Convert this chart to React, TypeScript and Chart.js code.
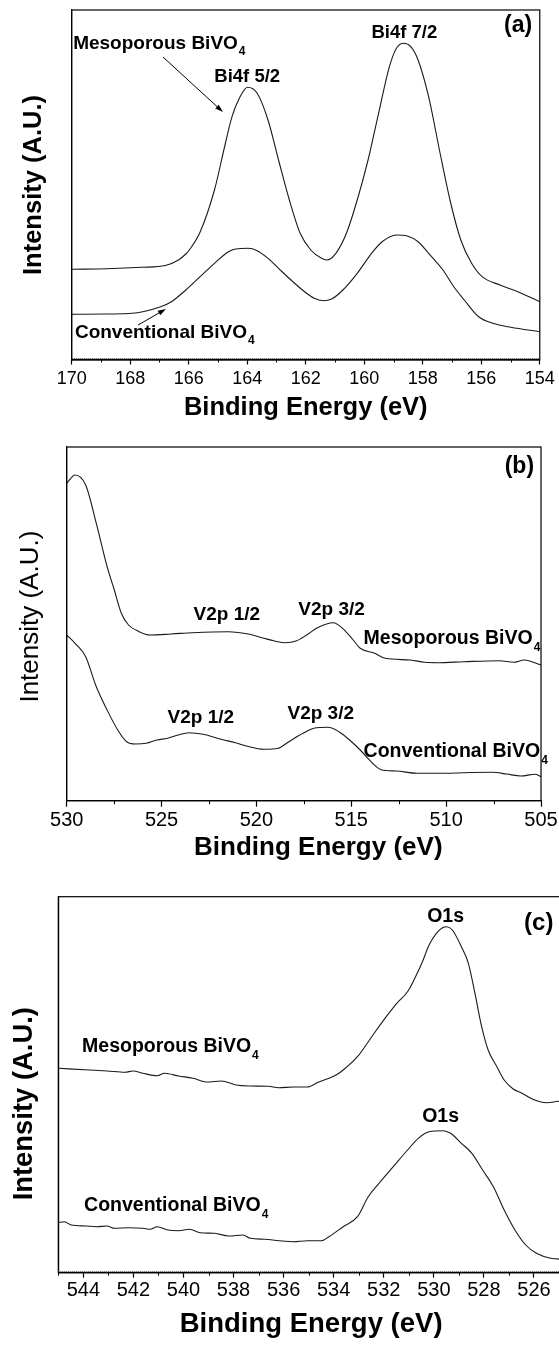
import React, { useEffect, useRef } from "react";
import { Chart, registerables } from "chart.js";

Chart.register(...registerables);

const FONT = '"Liberation Sans", Arial, Helvetica, sans-serif';

// ---------- Panel (a): Bi 4f ----------
const aEnergyMeso = [170.0, 168.8, 167.6, 166.8, 166.35, 166.1, 165.98, 165.61, 165.12, 164.76, 164.52, 164.27, 163.99, 163.66, 163.29, 162.93, 162.56, 162.19, 161.83, 161.46, 161.28, 160.97, 160.61, 160.24, 159.87, 159.51, 159.14, 158.9, 158.65, 158.41, 158.16, 157.8, 157.43, 157.07, 156.7, 156.33, 155.97, 155.36, 154.75, 154.0];
const aMeso = [90.7, 91.3, 92.7, 94.5, 100, 106, 110, 128, 170, 215, 243.3, 261.7, 272.7, 266.7, 240, 200, 160, 126.7, 110, 101.7, 100, 106.7, 126.7, 160, 200, 246.7, 293.3, 311.7, 316.7, 313.3, 300, 263.3, 210, 160, 120, 96.7, 83.3, 75, 68.3, 58.3];
const aEnergyConv = [170.0, 168.79, 167.93, 167.57, 166.96, 166.59, 166.1, 165.61, 165.12, 164.64, 164.39, 163.97, 163.66, 163.29, 162.93, 162.44, 162.07, 161.71, 161.4, 161.1, 160.73, 160.24, 159.75, 159.39, 158.9, 158.53, 158.16, 157.8, 157.31, 156.94, 156.58, 156.09, 155.6, 154.99, 154.0];
const aConv = [45.7, 46, 46.7, 48.3, 53.3, 58.3, 70, 83.3, 96.7, 108.3, 111, 111.7, 109.3, 101.7, 91.7, 78.3, 69, 61.7, 59.3, 61.3, 70, 86.7, 106.7, 118.3, 125, 124, 118.3, 106.7, 90, 73.3, 60, 43.3, 36.7, 32.7, 28.3];
const aTicks = [170, 168, 166, 164, 162, 160, 158, 156, 154];
const aMinor = [169, 167, 165, 163, 161, 159, 157, 155];

// ---------- Panel (b): V 2p ----------
const bEnergyMeso = [530.0, 529.56, 529.0, 528.44, 527.87, 527.49, 527.12, 526.74, 526.18, 525.62, 524.49, 523.36, 521.48, 520.35, 519.6, 519.04, 518.47, 517.91, 517.35, 516.78, 515.94, 515.46, 514.9, 514.53, 513.77, 513.21, 511.89, 511.14, 510.39, 509.07, 507.19, 506.44, 505.88, 505.0];
const bMeso = [317.4, 325.7, 315.7, 277.4, 234, 210.7, 187.4, 175.7, 169, 165.7, 166.7, 168, 169, 166.4, 162.4, 159.7, 158, 159.7, 165.7, 173, 178, 172.4, 160.7, 152.4, 147.4, 142.4, 140.7, 138.4, 138, 139, 140, 138.4, 140.7, 135.7];
const bEnergyConv = [530.0, 529.56, 529.0, 528.44, 527.87, 527.31, 526.84, 526.37, 525.81, 525.24, 524.68, 524.12, 523.55, 522.8, 521.86, 521.11, 520.54, 519.6, 518.85, 518.29, 517.54, 516.97, 516.22, 515.65, 515.09, 514.53, 513.96, 513.4, 512.65, 511.52, 510.02, 509.07, 507.57, 506.82, 506.06, 505.31, 505.0];
const bConv = [165.7, 157.4, 144, 114, 90.7, 70.7, 59, 56.7, 57.4, 60.7, 62.4, 65.7, 68, 66.4, 61.4, 58, 54.7, 51.4, 52.4, 59, 67.4, 72.4, 73.4, 69, 60.7, 50.7, 39, 30.7, 29.7, 27.4, 27.4, 28, 28.4, 26.7, 24.7, 26.4, 24];
const bTicks = [530, 525, 520, 515, 510, 505];
const bMinor = [527.5, 522.5, 517.5, 512.5, 507.5];

// ---------- Panel (c): O 1s ----------
const cEnergyMeso = [545.0, 543.76, 543.05, 542.33, 542.02, 541.62, 541.05, 540.76, 540.19, 539.62, 539.05, 538.48, 537.9, 537.33, 536.62, 536.19, 535.62, 535.05, 534.62, 533.9, 533.62, 533.05, 532.48, 531.9, 531.48, 531.05, 530.76, 530.48, 530.19, 529.9, 529.62, 529.48, 529.26, 528.9, 528.62, 528.33, 528.12, 527.83, 527.48, 527.19, 526.83, 526.48, 526.05, 525.76, 525.48, 525.26, 525.05, 524.8];
const cMeso = [204.4, 202.7, 201.7, 200.4, 201.7, 199.4, 197, 199.4, 196.7, 194.4, 190.7, 191.7, 187.7, 186.7, 186.4, 185, 185.7, 185.7, 190.4, 197.7, 202.7, 216, 236, 256, 269.4, 281, 294.4, 309.4, 327.7, 339.4, 345.4, 346, 342.7, 326, 309.4, 276, 249.4, 222.7, 206, 192.7, 183.7, 179.4, 173.4, 171, 170, 170.4, 171.4, 170];
const cEnergyConv = [545.0, 544.76, 544.48, 543.9, 543.48, 543.05, 542.76, 542.19, 541.62, 541.33, 541.05, 540.62, 540.19, 539.76, 539.33, 538.76, 538.19, 537.62, 537.33, 536.76, 536.05, 535.62, 535.05, 534.48, 534.19, 533.62, 533.05, 532.62, 532.19, 531.62, 531.05, 530.62, 530.19, 529.62, 529.33, 528.9, 528.48, 528.05, 527.62, 527.19, 526.76, 526.33, 525.9, 525.33, 524.8];
const cConv = [50, 51, 47.7, 46.7, 46, 46.7, 44.4, 45, 44.4, 43.4, 46, 42.7, 42, 43.4, 40, 39.4, 36.7, 37.7, 34.4, 33.4, 31.7, 31, 32, 32, 36, 46, 56, 76, 89.4, 106, 122.7, 134.4, 141, 142, 139.4, 129.4, 119.4, 102.7, 86, 62.7, 42.7, 27.7, 19.4, 14.4, 13.4];
const cTicks = [544, 542, 540, 538, 536, 534, 532, 530, 528, 526];
const cMinor = [545, 543, 541, 539, 537, 535, 533, 531, 529, 527, 525];

type Note = { text: string; sub?: string; x: number; y: number; align?: "left" | "center"; size: number; bold?: boolean };
type Arrow = { x1: number; y1: number; x2: number; y2: number };

type PanelCfg = {
  top: number;
  width: number;
  height: number;
  padTop: number;
  padRight: number;
  yAxisW: number;
  xAxisH: number;
  xMin: number;
  xMax: number;
  yMax: number;
  ticks: number[];
  minor: number[];
  tickSize: number;
  tickPad: number;
  tickLen: number;
  minorLen: number;
  dottedAxis: boolean;
  xTitle: string;
  xTitleSize: number;
  xTitlePad: number;
  yTitle: string;
  yTitleSize: number;
  yTitleBold: boolean;
  yTitlePad: number;
  series: { e: number[]; v: number[] }[];
  notes: Note[];
  arrows: Arrow[];
};

const panels: PanelCfg[] = [
  {
    top: 0, width: 559, height: 440, padTop: 10, padRight: 19, yAxisW: 71.7, xAxisH: 80,
    xMin: 154, xMax: 170, yMax: 350, ticks: aTicks, minor: aMinor,
    tickSize: 18, tickPad: 4.2, tickLen: 4.5, minorLen: 2.5, dottedAxis: true,
    xTitle: "Binding Energy (eV)", xTitleSize: 25.5, xTitlePad: 17.2,
    yTitle: "Intensity (A.U.)", yTitleSize: 25.5, yTitleBold: true, yTitlePad: 18.7,
    series: [{ e: aEnergyMeso, v: aMeso }, { e: aEnergyConv, v: aConv }],
    notes: [
      { text: "Mesoporous BiVO", sub: "4", x: 169.95, y: 316, size: 19, bold: true },
      { text: "Bi4f 5/2", x: 164.0, y: 283, align: "center", size: 18.5, bold: true },
      { text: "Bi4f 7/2", x: 158.63, y: 327, align: "center", size: 18.5, bold: true },
      { text: "(a)", x: 154.74, y: 334, align: "center", size: 23, bold: true },
      { text: "Conventional BiVO", sub: "4", x: 169.89, y: 27, size: 19, bold: true },
    ],
    arrows: [
      { x1: 166.88, y1: 303, x2: 164.83, y2: 248 },
      { x1: 167.73, y1: 35, x2: 166.78, y2: 51 },
    ],
  },
  {
    top: 440, width: 559, height: 440, padTop: 7, padRight: 17.3, yAxisW: 66.7, xAxisH: 79.3,
    xMin: 505, xMax: 530, yMax: 353.7, ticks: bTicks, minor: bMinor,
    tickSize: 20, tickPad: 1.3, tickLen: 6, minorLen: 3.5, dottedAxis: false,
    xTitle: "    Binding Energy (eV)", xTitleSize: 26, xTitlePad: 16.4,
    yTitle: "  Intensity (A.U.)", yTitleSize: 26, yTitleBold: false, yTitlePad: 15.4,
    series: [{ e: bEnergyMeso, v: bMeso }, { e: bEnergyConv, v: bConv }],
    notes: [
      { text: "V2p 1/2", x: 521.56, y: 185.7, align: "center", size: 19, bold: true },
      { text: "V2p 3/2", x: 516.04, y: 190.7, align: "center", size: 19, bold: true },
      { text: "Mesoporous BiVO", sub: "4", x: 514.35, y: 161.7, size: 19.5, bold: true },
      { text: "V2p 1/2", x: 522.93, y: 82.7, align: "center", size: 19, bold: true },
      { text: "V2p 3/2", x: 516.61, y: 86.7, align: "center", size: 19, bold: true },
      { text: "Conventional BiVO", sub: "4", x: 514.35, y: 48.7, size: 19.5, bold: true },
      { text: "(b)", x: 506.14, y: 333.7, align: "center", size: 23, bold: true },
    ],
    arrows: [],
  },
  {
    top: 880, width: 600, height: 467, padTop: 16.7, padRight: 36, yAxisW: 58.3, xAxisH: 74.3,
    xMin: 524.8, xMax: 545, yMax: 376, ticks: cTicks, minor: cMinor,
    tickSize: 20, tickPad: 1.1, tickLen: 5, minorLen: 3, dottedAxis: true,
    xTitle: "Binding Energy (eV)", xTitleSize: 27.5, xTitlePad: 6.5,
    yTitle: "Intensity (A.U.)     ", yTitleSize: 27.4, yTitleBold: true, yTitlePad: 7.6,
    series: [{ e: cEnergyMeso, v: cMeso }, { e: cEnergyConv, v: cConv }],
    notes: [
      { text: "O1s", x: 529.53, y: 355.7, align: "center", size: 19.5, bold: true },
      { text: "(c)", x: 525.81, y: 349.7, align: "center", size: 24, bold: true },
      { text: "Mesoporous BiVO", sub: "4", x: 544.05, y: 225.7, size: 19.5, bold: true },
      { text: "O1s", x: 529.73, y: 155.7, align: "center", size: 19.5, bold: true },
      { text: "Conventional BiVO", sub: "4", x: 543.97, y: 66.7, size: 19.5, bold: true },
    ],
    arrows: [],
  },
];

const fontStr = (size: number, bold?: boolean) => `${bold ? "bold " : ""}${size}px ${FONT}`;

function makeDecor(cfg: PanelCfg) {
  return {
    id: "decor",
    afterDraw(chart: any) {
      const ctx = chart.ctx as CanvasRenderingContext2D;
      const xs = chart.scales.x;
      const ys = chart.scales.y;
      const ca = chart.chartArea;
      ctx.save();
      ctx.strokeStyle = "#000";
      ctx.fillStyle = "#000";
      ctx.lineWidth = 1.2;
      ctx.strokeRect(ca.left, ca.top, ca.right - ca.left, ca.bottom - ca.top);
      if (cfg.dottedAxis) {
        ctx.save();
        ctx.lineWidth = 1;
        ctx.strokeStyle = "#444";
        ctx.setLineDash([1, 1]);
        ctx.beginPath();
        ctx.moveTo(ca.left, Math.round(ca.bottom) - 1.5);
        ctx.lineTo(ca.right, Math.round(ca.bottom) - 1.5);
        ctx.stroke();
        ctx.restore();
      }
      ctx.lineWidth = 1;
      cfg.minor.forEach((v) => {
        const px = Math.round(xs.getPixelForValue(v)) + 0.5;
        ctx.beginPath();
        ctx.moveTo(px, ca.bottom);
        ctx.lineTo(px, ca.bottom + cfg.minorLen);
        ctx.stroke();
      });
      cfg.notes.forEach((n) => {
        ctx.font = fontStr(n.size, n.bold);
        const w = ctx.measureText(n.text).width;
        const subSize = Math.round(n.size * 0.62);
        let ws = 0;
        if (n.sub) {
          ctx.font = fontStr(subSize, n.bold);
          ws = ctx.measureText(n.sub).width + 1;
        }
        let x0 = xs.getPixelForValue(n.x);
        const y0 = ys.getPixelForValue(n.y);
        if (n.align === "center") x0 -= (w + ws) / 2;
        ctx.textAlign = "left";
        ctx.textBaseline = "middle";
        ctx.font = fontStr(n.size, n.bold);
        ctx.fillText(n.text, x0, y0);
        if (n.sub) {
          ctx.font = fontStr(subSize, n.bold);
          ctx.fillText(n.sub, x0 + w + 1, y0 + n.size * 0.42);
        }
      });
      cfg.arrows.forEach((a) => {
        const x1 = xs.getPixelForValue(a.x1);
        const y1 = ys.getPixelForValue(a.y1);
        const x2 = xs.getPixelForValue(a.x2);
        const y2 = ys.getPixelForValue(a.y2);
        const ang = Math.atan2(y2 - y1, x2 - x1);
        const L = 8;
        const H = 2.6;
        ctx.lineWidth = 1;
        ctx.beginPath();
        ctx.moveTo(x1, y1);
        ctx.lineTo(x2 - Math.cos(ang) * L * 0.8, y2 - Math.sin(ang) * L * 0.8);
        ctx.stroke();
        ctx.beginPath();
        ctx.moveTo(x2, y2);
        ctx.lineTo(x2 - Math.cos(ang) * L - Math.sin(ang) * H, y2 - Math.sin(ang) * L + Math.cos(ang) * H);
        ctx.lineTo(x2 - Math.cos(ang) * L + Math.sin(ang) * H, y2 - Math.sin(ang) * L - Math.cos(ang) * H);
        ctx.closePath();
        ctx.fill();
      });
      ctx.restore();
    },
  };
}

function Panel({ cfg }: { cfg: PanelCfg }) {
  const ref = useRef<HTMLCanvasElement | null>(null);
  useEffect(() => {
    if (!ref.current) return;
    const chart = new Chart(ref.current, {
      type: "line",
      data: {
        datasets: cfg.series.map((s) => ({
          data: s.e.map((e, i) => ({ x: e, y: s.v[i] })),
          borderColor: "#1a1a1a",
          borderWidth: 1.1,
          pointRadius: 0,
          fill: false,
          cubicInterpolationMode: "monotone" as const,
        })),
      },
      options: {
        responsive: false,
        animation: false,
        devicePixelRatio: 1,
        layout: { padding: { top: cfg.padTop, right: cfg.padRight, bottom: 0, left: 0 } },
        plugins: { legend: { display: false }, tooltip: { enabled: false } },
        scales: {
          x: {
            type: "linear",
            reverse: true,
            min: cfg.xMin,
            max: cfg.xMax,
            afterBuildTicks: (s: any) => {
              s.ticks = cfg.ticks.map((v) => ({ value: v }));
            },
            afterFit: (s: any) => {
              s.height = cfg.xAxisH;
            },
            ticks: {
              autoSkip: false,
              maxRotation: 0,
              minRotation: 0,
              padding: cfg.tickPad,
              color: "#000",
              font: { family: FONT, size: cfg.tickSize, lineHeight: 1.2 },
              callback: (v: any) => String(v),
            },
            grid: { drawOnChartArea: false, drawTicks: true, tickLength: cfg.tickLen, tickWidth: 1.2, tickColor: "#000" },
            border: { display: true, color: "#000", width: 1.2 },
            title: {
              display: true,
              text: cfg.xTitle,
              color: "#000",
              font: { family: FONT, size: cfg.xTitleSize, weight: "bold", lineHeight: 1.2 },
              padding: { top: 0, bottom: cfg.xTitlePad },
            },
          },
          y: {
            type: "linear",
            min: 0,
            max: cfg.yMax,
            afterFit: (s: any) => {
              s.width = cfg.yAxisW;
            },
            ticks: { display: false },
            grid: { display: false, drawTicks: false },
            border: { display: true, color: "#000", width: 1.2 },
            title: {
              display: true,
              text: cfg.yTitle,
              color: "#000",
              font: { family: FONT, size: cfg.yTitleSize, weight: cfg.yTitleBold ? "bold" : "normal", lineHeight: 1.2 },
              padding: { top: cfg.yTitlePad, bottom: 0 },
            },
          },
        },
      },
      plugins: [makeDecor(cfg)],
    } as any);
    return () => chart.destroy();
  }, [cfg]);
  return (
    <canvas
      ref={ref}
      width={cfg.width}
      height={cfg.height}
      style={{ position: "absolute", left: 0, top: cfg.top, width: cfg.width, height: cfg.height, display: "block" }}
    />
  );
}

export default function App() {
  return (
    <div
      style={{
        position: "absolute",
        left: 0,
        top: 0,
        width: 559,
        height: 1347,
        overflow: "hidden",
        background: "#fff",
      }}
    >
      {panels.map((p, i) => (
        <Panel key={i} cfg={p} />
      ))}
    </div>
  );
}
